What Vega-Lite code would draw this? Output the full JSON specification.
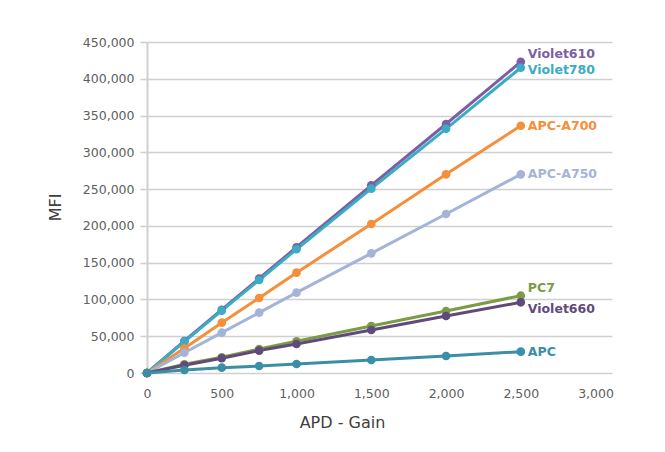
{
  "$schema": "https://vega.github.io/schema/vega-lite/v6.json",
  "autosize": "none",
  "padding": {"left": 147, "top": 42, "right": 53, "bottom": 79},
  "width": 465,
  "height": 331,
  "background": "white",
  "config": {
    "view": {"stroke": null},
    "font": "DejaVu Sans",
    "axis": {
      "labelFont": "DejaVu Sans",
      "titleFont": "DejaVu Sans",
      "labelColor": "#606060",
      "titleColor": "#404040",
      "labelFontSize": 12.5,
      "titleFontSize": 16,
      "titleFontWeight": "normal",
      "gridColor": "#d0d0d0",
      "gridWidth": 1.6,
      "gridOpacity": 1
    }
  },
  "data": {
    "values": [
      {"gain": 0, "mfi": 0, "dye": "Violet610"},
      {"gain": 250, "mfi": 43500, "dye": "Violet610"},
      {"gain": 500, "mfi": 86000, "dye": "Violet610"},
      {"gain": 750, "mfi": 128500, "dye": "Violet610"},
      {"gain": 1000, "mfi": 171000, "dye": "Violet610"},
      {"gain": 1500, "mfi": 255200, "dye": "Violet610"},
      {"gain": 2000, "mfi": 338500, "dye": "Violet610"},
      {"gain": 2500, "mfi": 423000, "dye": "Violet610"},
      {"gain": 0, "mfi": 0, "dye": "Violet780"},
      {"gain": 250, "mfi": 42600, "dye": "Violet780"},
      {"gain": 500, "mfi": 84700, "dye": "Violet780"},
      {"gain": 750, "mfi": 126400, "dye": "Violet780"},
      {"gain": 1000, "mfi": 168200, "dye": "Violet780"},
      {"gain": 1500, "mfi": 250600, "dye": "Violet780"},
      {"gain": 2000, "mfi": 332000, "dye": "Violet780"},
      {"gain": 2500, "mfi": 415000, "dye": "Violet780"},
      {"gain": 0, "mfi": 0, "dye": "APC-A700"},
      {"gain": 250, "mfi": 33500, "dye": "APC-A700"},
      {"gain": 500, "mfi": 68400, "dye": "APC-A700"},
      {"gain": 750, "mfi": 102000, "dye": "APC-A700"},
      {"gain": 1000, "mfi": 136400, "dye": "APC-A700"},
      {"gain": 1500, "mfi": 202600, "dye": "APC-A700"},
      {"gain": 2000, "mfi": 270100, "dye": "APC-A700"},
      {"gain": 2500, "mfi": 336200, "dye": "APC-A700"},
      {"gain": 0, "mfi": 0, "dye": "APC-A750"},
      {"gain": 250, "mfi": 27600, "dye": "APC-A750"},
      {"gain": 500, "mfi": 54800, "dye": "APC-A750"},
      {"gain": 750, "mfi": 82000, "dye": "APC-A750"},
      {"gain": 1000, "mfi": 109200, "dye": "APC-A750"},
      {"gain": 1500, "mfi": 162700, "dye": "APC-A750"},
      {"gain": 2000, "mfi": 216200, "dye": "APC-A750"},
      {"gain": 2500, "mfi": 270100, "dye": "APC-A750"},
      {"gain": 0, "mfi": 0, "dye": "PC7"},
      {"gain": 250, "mfi": 11800, "dye": "PC7"},
      {"gain": 500, "mfi": 21300, "dye": "PC7"},
      {"gain": 750, "mfi": 32600, "dye": "PC7"},
      {"gain": 1000, "mfi": 43100, "dye": "PC7"},
      {"gain": 1500, "mfi": 63900, "dye": "PC7"},
      {"gain": 2000, "mfi": 84300, "dye": "PC7"},
      {"gain": 2500, "mfi": 105100, "dye": "PC7"},
      {"gain": 0, "mfi": 0, "dye": "Violet660"},
      {"gain": 250, "mfi": 10500, "dye": "Violet660"},
      {"gain": 500, "mfi": 20000, "dye": "Violet660"},
      {"gain": 750, "mfi": 30500, "dye": "Violet660"},
      {"gain": 1000, "mfi": 39400, "dye": "Violet660"},
      {"gain": 1500, "mfi": 58500, "dye": "Violet660"},
      {"gain": 2000, "mfi": 77500, "dye": "Violet660"},
      {"gain": 2500, "mfi": 96100, "dye": "Violet660"},
      {"gain": 0, "mfi": 0, "dye": "APC"},
      {"gain": 250, "mfi": 4100, "dye": "APC"},
      {"gain": 500, "mfi": 7300, "dye": "APC"},
      {"gain": 750, "mfi": 9500, "dye": "APC"},
      {"gain": 1000, "mfi": 12200, "dye": "APC"},
      {"gain": 1500, "mfi": 17700, "dye": "APC"},
      {"gain": 2000, "mfi": 23100, "dye": "APC"},
      {"gain": 2500, "mfi": 29000, "dye": "APC"}
    ]
  },
  "encoding": {
    "x": {
      "field": "gain", "type": "quantitative",
      "scale": {"domain": [0, 3110], "nice": false},
      "axis": {
        "title": "APD - Gain",
        "values": [0, 500, 1000, 1500, 2000, 2500, 3000],
        "format": ",d",
        "domain": false, "ticks": false, "grid": false,
        "labelFlush": false,
        "labelPadding": 14,
        "titleX": 195, "titleY": 49, "titleBaseline": "middle", "titleAnchor": null, "titleAlign": "center"
      }
    },
    "y": {
      "field": "mfi", "type": "quantitative",
      "scale": {"domain": [0, 450000], "nice": false},
      "axis": {
        "title": "MFI",
        "values": [0, 50000, 100000, 150000, 200000, 250000, 300000, 350000, 400000, 450000],
        "format": ",d",
        "domain": true, "domainColor": "#d0d0d0", "domainWidth": 2,
        "ticks": true, "tickColor": "#d0d0d0", "tickSize": 7, "tickWidth": 1.6,
        "labelFlush": false,
        "labelPadding": 6,
        "titleX": -92, "titleY": 165, "titleBaseline": "middle", "titleAngle": -90
      }
    },
    "color": {
      "field": "dye", "type": "nominal", "legend": null,
      "scale": {
        "domain": ["Violet610", "Violet780", "APC-A700", "APC-A750", "PC7", "Violet660", "APC"],
        "range": ["#7b5ea7", "#3aacc4", "#f58f3a", "#a4b4d8", "#7c9b45", "#604a7b", "#3a8ea5"]
      }
    }
  },
  "layer": [
    {"mark": {"type": "line", "strokeWidth": 3}, "encoding": {"detail": {"field": "dye"}}},
    {"mark": {"type": "circle", "size": 75, "opacity": 1}},
    {
      "transform": [{"filter": "datum.gain == 2500 && (datum.dye == 'APC-A700' || datum.dye == 'APC-A750' || datum.dye == 'APC')"}],
      "mark": {"type": "text", "align": "left", "baseline": "middle", "dx": 7, "dy": 0, "fontSize": 12.5, "fontWeight": "bold", "font": "DejaVu Sans"},
      "encoding": {"text": {"field": "dye"}}
    },
    {
      "transform": [{"filter": "datum.gain == 2500 && (datum.dye == 'Violet610' || datum.dye == 'PC7')"}],
      "mark": {"type": "text", "align": "left", "baseline": "middle", "dx": 7, "dy": -8, "fontSize": 12.5, "fontWeight": "bold", "font": "DejaVu Sans"},
      "encoding": {"text": {"field": "dye"}}
    },
    {
      "transform": [{"filter": "datum.gain == 2500 && datum.dye == 'Violet780'"}],
      "mark": {"type": "text", "align": "left", "baseline": "middle", "dx": 7, "dy": 2, "fontSize": 12.5, "fontWeight": "bold", "font": "DejaVu Sans"},
      "encoding": {"text": {"field": "dye"}}
    },
    {
      "transform": [{"filter": "datum.gain == 2500 && datum.dye == 'Violet660'"}],
      "mark": {"type": "text", "align": "left", "baseline": "middle", "dx": 7, "dy": 7, "fontSize": 12.5, "fontWeight": "bold", "font": "DejaVu Sans"},
      "encoding": {"text": {"field": "dye"}}
    }
  ]
}
